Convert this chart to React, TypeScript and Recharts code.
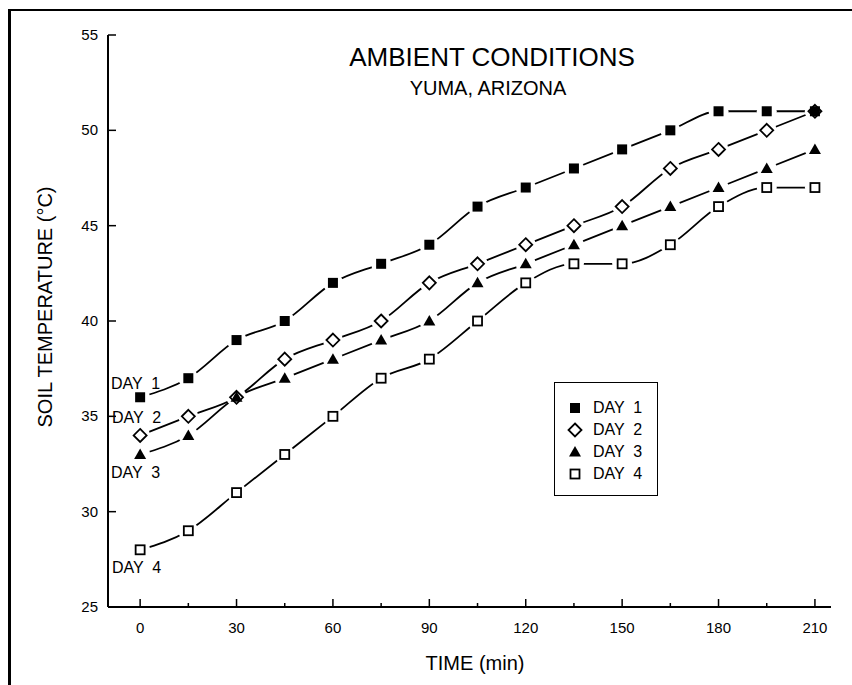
import React from "react";
import { LineChart, Line, XAxis, YAxis, Legend } from "recharts";

// time after start (min)
const times = [0, 15, 30, 45, 60, 75, 90, 105, 120, 135, 150, 165, 180, 195, 210];
// soil temperature (°C) per day
const day1 = [36, 37, 39, 40, 42, 43, 44, 46, 47, 48, 49, 50, 51, 51, 51];
const day2 = [34, 35, 36, 38, 39, 40, 42, 43, 44, 45, 46, 48, 49, 50, 51];
const day3 = [33, 34, 36, 37, 38, 39, 40, 42, 43, 44, 45, 46, 47, 48, 49];
const day4 = [28, 29, 31, 33, 35, 37, 38, 40, 42, 43, 43, 44, 46, 47, 47];

const xTicks = [0, 15, 30, 45, 60, 75, 90, 105, 120, 135, 150, 165, 180, 195, 210];
const yTicks = [25, 30, 35, 40, 45, 50, 55];
const seriesNames = ["DAY  1", "DAY  2", "DAY  3", "DAY  4"];

const data = times.map((t, i) => ({ time: t, d1: day1[i], d2: day2[i], d3: day3[i], d4: day4[i] }));

const FONT = "'Liberation Sans', Arial, sans-serif";

const series = [
  { key: "d1", kind: "fsq" },
  { key: "d2", kind: "dia" },
  { key: "d3", kind: "tri" },
  { key: "d4", kind: "osq" },
];

const Marker = ({ kind, cx, cy }: { kind: string; cx: number; cy: number }) => {
  switch (kind) {
    case "fsq":
      return <rect x={cx - 5} y={cy - 5} width={10} height={10} fill="#000" />;
    case "dia":
      return (
        <polygon
          points={`${cx},${cy - 6.5} ${cx + 6.5},${cy} ${cx},${cy + 6.5} ${cx - 6.5},${cy}`}
          fill="none"
          stroke="#000"
          strokeWidth={1.8}
        />
      );
    case "tri":
      return <polygon points={`${cx},${cy - 6} ${cx + 6},${cy + 4.5} ${cx - 6},${cy + 4.5}`} fill="#000" />;
    default:
      return <rect x={cx - 4.5} y={cy - 4.5} width={9} height={9} fill="none" stroke="#000" strokeWidth={1.8} />;
  }
};

const XTick = (props: any) => {
  const { x, y, payload } = props;
  const major = payload.value % 30 === 0;
  return (
    <g>
      <line x1={x} x2={x} y1={y} y2={y - (major ? 8 : 4)} stroke="#000" strokeWidth={1.5} />
      {major && (
        <text x={x} y={y + 26} textAnchor="middle" fontSize={15} fontFamily={FONT} fill="#000">
          {payload.value}
        </text>
      )}
    </g>
  );
};

const YTick = (props: any) => {
  const { x, y, payload } = props;
  return (
    <g>
      <line x1={x} x2={x + 8} y1={y} y2={y} stroke="#000" strokeWidth={1.5} />
      <text x={x - 10} y={y} dy={5} textAnchor="end" fontSize={15} fontFamily={FONT} fill="#000">
        {payload.value}
      </text>
    </g>
  );
};

const LegendBox = () => (
  <div
    style={{
      width: 104,
      height: 114,
      boxSizing: "border-box",
      border: "1.5px solid #000",
      background: "#fff",
      paddingTop: 14,
      paddingLeft: 12,
      fontFamily: FONT,
      fontSize: 16,
      color: "#000",
    }}
  >
    {series.map((s, i) => (
      <div key={s.key} style={{ display: "flex", alignItems: "center", height: 22 }}>
        <svg width={16} height={16} style={{ marginRight: 10 }}>
          <Marker kind={s.kind} cx={8} cy={8} />
        </svg>
        <span style={{ whiteSpace: "pre" }}>{seriesNames[i]}</span>
      </div>
    ))}
  </div>
);

export default function App() {
  return (
    <div style={{ position: "absolute", left: 0, top: 0, width: 852, height: 685, background: "#fff" }}>
      <LineChart width={852} height={685} data={data} margin={{ top: 35, right: 21, bottom: 68, left: 98 }}>
        <XAxis
          dataKey="time"
          type="number"
          domain={[-10, 215]}
          ticks={xTicks}
          allowDataOverflow
          height={10}
          tickSize={0}
          tickMargin={0}
          tickLine={false}
          axisLine={{ stroke: "#000", strokeWidth: 2 }}
          tick={<XTick />}
          interval={0}
        />
        <YAxis
          type="number"
          domain={[25, 55]}
          ticks={yTicks}
          width={10}
          tickSize={0}
          tickMargin={0}
          tickLine={false}
          axisLine={{ stroke: "#000", strokeWidth: 2 }}
          tick={<YTick />}
          interval={0}
        />
        <Legend
          layout="horizontal"
          verticalAlign="middle"
          align="center"
          content={<LegendBox />}
          wrapperStyle={{ position: "absolute", left: 554, top: 382, width: 104, height: 114 }}
        />
        {series.map((s) => (
          <Line
            key={`curve-${s.key}`}
            dataKey={s.key}
            type="monotone"
            stroke="#000"
            strokeWidth={1.8}
            dot={(p: any) => <circle key={`h-${s.key}-${p.index}`} cx={p.cx} cy={p.cy} r={10} fill="#fff" stroke="none" />}
            activeDot={false}
            isAnimationActive={false}
          />
        ))}
        {series.map((s) => (
          <Line
            key={`mark-${s.key}`}
            dataKey={s.key}
            stroke="none"
            activeDot={false}
            isAnimationActive={false}
            dot={(p: any) => (
              <g key={`m-${s.key}-${p.index}`}>
                <Marker kind={s.kind} cx={p.cx} cy={p.cy} />
              </g>
            )}
          />
        ))}
      </LineChart>
      <svg
        width={852}
        height={685}
        style={{ position: "absolute", left: 0, top: 0, pointerEvents: "none" }}
        fontFamily={FONT}
      >
        <line x1={8} x2={852} y1={10} y2={10} stroke="#000" strokeWidth={2} />
        <line x1={9.5} x2={9.5} y1={9} y2={685} stroke="#000" strokeWidth={3} />
        <text x={492} y={57} textAnchor="middle" dominantBaseline="central" fontSize={26} fill="#000">
          AMBIENT CONDITIONS
        </text>
        <text x={488} y={88} textAnchor="middle" dominantBaseline="central" fontSize={20} fill="#000">
          YUMA, ARIZONA
        </text>
        <text
          x={45}
          y={307}
          transform="rotate(-90 45 307)"
          textAnchor="middle"
          dominantBaseline="central"
          fontSize={20}
          fill="#000"
        >
          SOIL TEMPERATURE (°C)
        </text>
        <text x={475} y={663} textAnchor="middle" dominantBaseline="central" fontSize={20} fill="#000">
          TIME (min)
        </text>
        <text x={111} y={383} dominantBaseline="central" fontSize={16} fill="#000" style={{ whiteSpace: "pre" }}>DAY  1</text>
        <text x={112} y={417} dominantBaseline="central" fontSize={16} fill="#000" style={{ whiteSpace: "pre" }}>DAY  2</text>
        <text x={111} y={472} dominantBaseline="central" fontSize={16} fill="#000" style={{ whiteSpace: "pre" }}>DAY  3</text>
        <text x={112} y={567} dominantBaseline="central" fontSize={16} fill="#000" style={{ whiteSpace: "pre" }}>DAY  4</text>
      </svg>
    </div>
  );
}
